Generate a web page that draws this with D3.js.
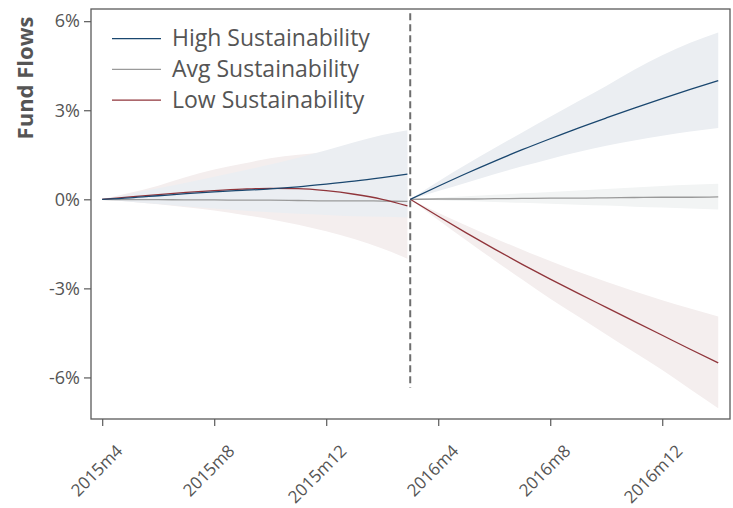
<!doctype html>
<html>

<head>
    <meta charset="UTF-8">
    <title>Fund Flows by Sustainability</title>
    <script src="https://d3js.org/d3.v7.min.js"></script>
    <style>
        body { margin: 0; background: #fff; }
        text { font-family: "Open Sans", "Noto Sans", sans-serif; }
    </style>
</head>

<body>
    <script>
        // months since 2015m4; pre-period ends just before the break at month 11
        var preMonths = [0, 1, 2, 3, 4, 5, 6, 7, 8, 9, 10, 10.9];
        var postMonths = [11, 12, 13, 14, 15, 16, 17, 18, 19, 20, 21, 22];

        // fund flows in %
        var highPre = [0, 0.05, 0.12, 0.19, 0.25, 0.30, 0.35, 0.42, 0.51, 0.61, 0.73, 0.85];
        var highPreUp = [0, 0.18, 0.37, 0.56, 0.76, 0.96, 1.17, 1.40, 1.65, 1.92, 2.17, 2.33];
        var highPreLo = [0, -0.08, -0.16, -0.24, -0.31, -0.38, -0.44, -0.49, -0.53, -0.57, -0.59, -0.61];
        var avgPre = [0, -0.01, -0.01, -0.02, -0.02, -0.03, -0.03, -0.04, -0.05, -0.05, -0.06, -0.07];
        var avgPreUp = [0, 0.02, 0.03, 0.04, 0.05, 0.06, 0.06, 0.07, 0.07, 0.08, 0.08, 0.08];
        var avgPreLo = [0, -0.03, -0.05, -0.07, -0.09, -0.11, -0.13, -0.15, -0.17, -0.18, -0.20, -0.21];
        var lowPre = [0, 0.08, 0.16, 0.23, 0.29, 0.34, 0.37, 0.36, 0.29, 0.17, 0.0, -0.22];
        var lowPreUp = [0, 0.22, 0.46, 0.75, 1.0, 1.2, 1.38, 1.5, 1.58, 1.62, 1.62, 1.60];
        var lowPreLo = [0, -0.08, -0.17, -0.27, -0.38, -0.52, -0.67, -0.86, -1.08, -1.34, -1.66, -2.0];

        var highPost = [0, 0.44, 0.87, 1.28, 1.67, 2.04, 2.40, 2.74, 3.07, 3.39, 3.70, 4.0];
        var highPostUp = [0, 0.6, 1.17, 1.72, 2.25, 2.78, 3.3, 3.82, 4.36, 4.85, 5.27, 5.62];
        var highPostLo = [0, 0.28, 0.56, 0.84, 1.11, 1.36, 1.59, 1.80, 1.98, 2.14, 2.28, 2.4];
        var avgPost = [0, 0.01, 0.01, 0.02, 0.03, 0.04, 0.04, 0.05, 0.06, 0.07, 0.07, 0.08];
        var avgPostUp = [0, 0.05, 0.10, 0.15, 0.20, 0.25, 0.30, 0.35, 0.40, 0.45, 0.49, 0.52];
        var avgPostLo = [0, -0.03, -0.06, -0.09, -0.12, -0.15, -0.18, -0.21, -0.25, -0.28, -0.31, -0.34];
        var lowPost = [0, -0.57, -1.13, -1.67, -2.19, -2.69, -3.17, -3.64, -4.11, -4.58, -5.05, -5.51];
        var lowPostUp = [0, -0.45, -0.88, -1.3, -1.7, -2.08, -2.44, -2.78, -3.1, -3.4, -3.68, -3.95];
        var lowPostLo = [0, -0.7, -1.38, -2.05, -2.7, -3.35, -3.95, -4.55, -5.15, -5.75, -6.4, -7.04];

        var tickMonths = [0, 4, 8, 12, 16, 20];
        var tickLabels = ["2015m4", "2015m8", "2015m12", "2016m4", "2016m8", "2016m12"];
        var yTicks = [-6, -3, 0, 3, 6];
        var breakMonth = 11;
        var breakRange = [6.27, -6.35];

        var seriesNames = ["High Sustainability", "Avg Sustainability", "Low Sustainability"];
        var lineColors = ["#1a476f", "#9a9a9a", "#90353b"];
        var bandColors = ["#ebeef2", "#f2f4f4", "#f4eeee"];

        var width = 733;
        var height = 508;

        var x = d3.scaleLinear().domain([-0.4, 22.42]).range([91, 730]);
        var y = d3.scaleLinear().domain([-7.4, 6.41]).range([419, 9]);

        var svg = d3.select("body").append("svg")
            .attr("width", width)
            .attr("height", height);

        function rows(months, mid, up, lo) {
            return months.map(function (m, i) { return { m: m, v: mid[i], hi: up[i], lo: lo[i] }; });
        }

        var series = [
            [rows(preMonths, highPre, highPreUp, highPreLo), rows(postMonths, highPost, highPostUp, highPostLo)],
            [rows(preMonths, avgPre, avgPreUp, avgPreLo), rows(postMonths, avgPost, avgPostUp, avgPostLo)],
            [rows(preMonths, lowPre, lowPreUp, lowPreLo), rows(postMonths, lowPost, lowPostUp, lowPostLo)]
        ];

        var area = d3.area()
            .x(function (d) { return x(d.m); })
            .y0(function (d) { return y(d.lo); })
            .y1(function (d) { return y(d.hi); })
            .curve(d3.curveMonotoneX);

        var line = d3.line()
            .x(function (d) { return x(d.m); })
            .y(function (d) { return y(d.v); })
            .curve(d3.curveMonotoneX);

        // bands: low first, then avg, high on top
        [2, 1, 0].forEach(function (s) {
            series[s].forEach(function (seg) {
                svg.append("path").attr("d", area(seg)).attr("fill", bandColors[s]);
            });
        });

        // lines: avg, low, high
        [1, 2, 0].forEach(function (s) {
            series[s].forEach(function (seg) {
                svg.append("path").attr("d", line(seg))
                    .attr("fill", "none")
                    .attr("stroke", lineColors[s])
                    .attr("stroke-width", 1.3);
            });
        });

        // break line
        svg.append("line")
            .attr("x1", x(breakMonth)).attr("x2", x(breakMonth))
            .attr("y1", y(breakRange[0])).attr("y2", y(breakRange[1]))
            .attr("stroke", "#6e6e6e")
            .attr("stroke-width", 2)
            .attr("stroke-dasharray", "7,4");

        // frame
        svg.append("rect")
            .attr("x", 91).attr("y", 9)
            .attr("width", 639).attr("height", 410)
            .attr("fill", "none")
            .attr("stroke", "#5a5a5a")
            .attr("stroke-width", 1.3);

        // y axis
        var yAxis = svg.append("g")
            .attr("transform", "translate(91,0)")
            .call(d3.axisLeft(y).tickValues(yTicks).tickSize(7).tickPadding(4)
                .tickFormat(function (d) { return d + "%"; }));
        yAxis.select(".domain").remove();
        yAxis.selectAll("line").attr("stroke", "#5a5a5a").attr("stroke-width", 1.2);
        yAxis.selectAll("text")
            .attr("fill", "#555")
            .style("font-size", "18px")
            .style("font-family", "'Open Sans', sans-serif");

        // x axis
        var xAxis = svg.append("g")
            .attr("transform", "translate(0,419)")
            .call(d3.axisBottom(x).tickValues(tickMonths).tickSize(7)
                .tickFormat(function (d, i) { return tickLabels[i]; }));
        xAxis.select(".domain").remove();
        xAxis.selectAll("line").attr("stroke", "#5a5a5a").attr("stroke-width", 1.2);
        xAxis.selectAll("text")
            .attr("fill", "#555")
            .attr("text-anchor", "end")
            .attr("dy", null)
            .attr("y", null)
            .attr("transform", "translate(21,33) rotate(-45)")
            .style("font-size", "17px")
            .style("font-family", "'Open Sans', sans-serif");

        // y axis title
        svg.append("text")
            .attr("transform", "translate(33,78) rotate(-90)")
            .attr("text-anchor", "middle")
            .attr("fill", "#555")
            .style("font-size", "22px")
            .style("font-weight", "bold")
            .text("Fund Flows");

        // legend
        var legend = svg.append("g");
        seriesNames.forEach(function (name, i) {
            var ly = 38.7 + i * 30.7;
            legend.append("line")
                .attr("x1", 112).attr("x2", 161)
                .attr("y1", ly).attr("y2", ly)
                .attr("stroke", lineColors[i])
                .attr("stroke-width", 1.2);
            legend.append("text")
                .attr("x", 172).attr("y", ly + 7.5)
                .attr("fill", "#555")
                .style("font-size", "23px")
                .text(name);
        });
    </script>
</body>

</html>
